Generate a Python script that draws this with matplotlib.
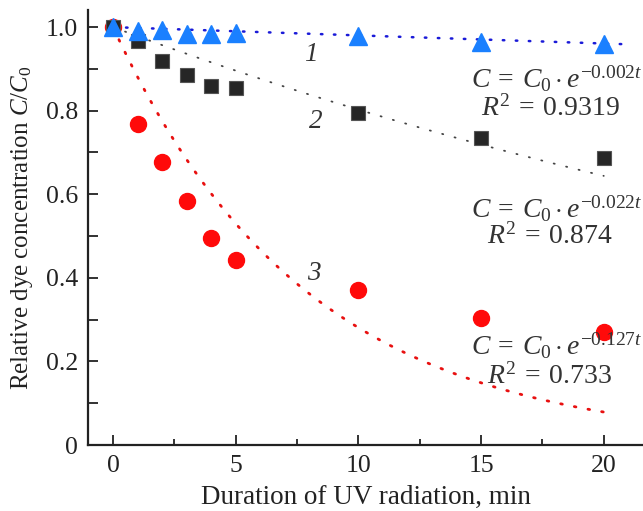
import numpy as np
import matplotlib
matplotlib.use("Agg")
import matplotlib.pyplot as plt
from matplotlib.ticker import FixedLocator

plt.rcParams['font.family'] = ['Liberation Serif', 'DejaVu Serif']
plt.rcParams['mathtext.fontset'] = 'custom'
plt.rcParams['mathtext.rm'] = 'Liberation Serif'
plt.rcParams['mathtext.it'] = 'Liberation Serif:italic'
plt.rcParams['mathtext.bf'] = 'Liberation Serif:bold'

# Data
t = [0, 1, 2, 3, 4, 5, 10, 15, 20]
series1 = [1.0, 0.99, 0.993, 0.983, 0.983, 0.986, 0.978, 0.964, 0.959]   # triangles
series2 = [1.0, 0.967, 0.919, 0.885, 0.859, 0.854, 0.794, 0.734, 0.687]  # squares
series3 = [1.0, 0.768, 0.677, 0.584, 0.495, 0.443, 0.371, 0.304, 0.270] # circles
k1, k2, k3 = 0.002, 0.022, 0.127
fit1_end, fit2_end, fit3_end = 21.0, 20.0, 20.0

fig = plt.figure(figsize=(6.43, 5.11), dpi=100)
ax = fig.add_axes([88/643, 66/511, 1 - 88/643, (445-10)/511])

tt1 = np.linspace(0, fit1_end, 200)
tt2 = np.linspace(0, fit2_end, 200)
tt3 = np.linspace(0, fit3_end, 200)
ax.plot(tt1, np.exp(-k1*tt1), color='#1a1ad8', lw=1.8, ls=(0, (0.6, 4.6)), dash_capstyle='round', zorder=2)
ax.plot(tt2, np.exp(-k2*tt2), color='#444444', lw=1.3, ls=(0, (0.6, 6.5)), dash_capstyle='round', zorder=2)
ax.plot(tt3, np.exp(-k3*tt3), color='#e81010', lw=2.0, ls=(0, (0.6, 4.4)), dash_capstyle='round', zorder=2)

ax.plot(t, series3, 'o', color='#ff0a0a', ms=11.5, mec='#ff0a0a', zorder=3)
ax.plot(t, series2, 's', color='#262626', ms=10.5, mec='#555555', mew=0.8, zorder=4)
ax.plot(t, series1, '^', color='#1a80ff', ms=13, mec='#1a80ff', zorder=5)

ax.set_xlim(-1.02, 21.6)
ax.set_ylim(0, 1.041)
for s in ['top', 'right']:
    ax.spines[s].set_visible(False)
for s in ['left', 'bottom']:
    ax.spines[s].set_linewidth(1.6)
    ax.spines[s].set_color('#222222')

ax.xaxis.set_major_locator(FixedLocator([0, 5, 10, 15, 20]))
ax.xaxis.set_minor_locator(FixedLocator([2.5, 7.5, 12.5, 17.5]))
ax.yaxis.set_major_locator(FixedLocator([0, 0.2, 0.4, 0.6, 0.8, 1.0]))
ax.yaxis.set_minor_locator(FixedLocator([0.1, 0.3, 0.5, 0.7, 0.9]))
ax.set_yticklabels(['0', '0.2', '0.4', '0.6', '0.8', '1.0'])
ax.tick_params(which='major', direction='in', length=7, width=1.3, labelsize=18.5, color='#222222', pad=7, labelcolor='#222222')
ax.tick_params(axis='x', which='minor', direction='in', length=4.5, width=1.3, color='#222222')
ax.tick_params(axis='y', which='minor', direction='in', length=7, width=1.3, color='#222222')

ax.set_xlabel('Duration of UV radiation, min', fontsize=19.5, labelpad=6, color='#222222')
ax.set_ylabel('Relative dye concentration $C/C_0$', fontsize=18, labelpad=8, color='#222222')

ax.text(8.08, 0.935, '1', fontsize=19.5, style='italic', ha='center', va='center', color='#333333')
ax.text(8.28, 0.775, '2', fontsize=19.5, style='italic', ha='center', va='center', color='#333333')
ax.text(8.18, 0.41, '3', fontsize=19.5, style='italic', ha='center', va='center', color='#333333')

fs = 20
ax.text(21.6, 0.854, r'$C\:=\:C_0 \cdot e^{-0.002t}$', fontsize=fs, ha='right', va='baseline', color='#333333')
ax.text(20.65, 0.789, r'$R^2\:=\:0.9319$', fontsize=fs, ha='right', va='baseline', color='#333333')
ax.text(21.6, 0.545, r'$C\:=\:C_0 \cdot e^{-0.022t}$', fontsize=fs, ha='right', va='baseline', color='#333333')
ax.text(20.37, 0.483, r'$R^2\:=\:0.874$', fontsize=fs, ha='right', va='baseline', color='#333333')
ax.text(21.6, 0.215, r'$C\:=\:C_0 \cdot e^{-0.127t}$', fontsize=fs, ha='right', va='baseline', color='#333333')
ax.text(20.33, 0.148, r'$R^2\:=\:0.733$', fontsize=fs, ha='right', va='baseline', color='#333333')

fig.savefig('out.png', dpi=100)
